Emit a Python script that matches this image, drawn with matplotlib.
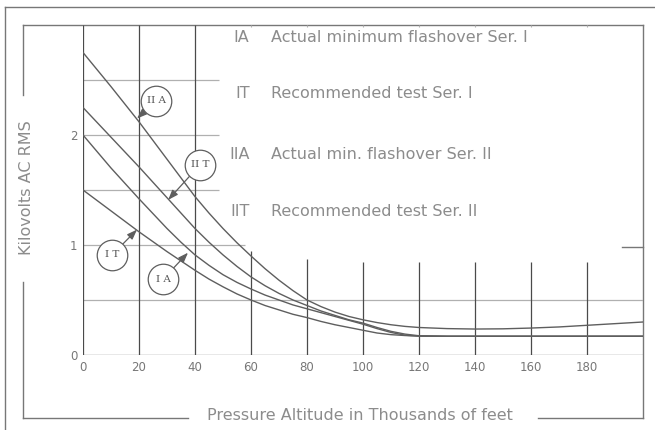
import matplotlib
matplotlib.use("Agg")
import matplotlib.pyplot as plt
from matplotlib.lines import Line2D

# altitude in thousands of feet
altitude = [0, 5, 10, 15, 20, 25, 30, 35, 40, 45, 50, 55, 60, 65, 70, 75, 80, 85, 90,
            95, 100, 105, 110, 115, 120, 130, 140, 150, 160, 170, 180, 190, 200]
# kilovolts AC RMS
ser1_actual = [2.00, 1.85, 1.70, 1.56, 1.42, 1.285, 1.15, 1.025, 0.91, 0.815, 0.73, 0.66,
               0.60, 0.545, 0.50, 0.455, 0.42, 0.385, 0.35, 0.315, 0.28, 0.24, 0.205,
               0.18, 0.172, 0.17, 0.17, 0.17, 0.17, 0.17, 0.17, 0.17, 0.17]
ser1_test = [1.50, 1.405, 1.31, 1.215, 1.12, 1.03, 0.94, 0.855, 0.77, 0.69, 0.62, 0.555,
             0.50, 0.45, 0.41, 0.37, 0.34, 0.305, 0.275, 0.25, 0.225, 0.20, 0.185,
             0.177, 0.172, 0.17, 0.17, 0.17, 0.17, 0.17, 0.17, 0.17, 0.17]
ser2_actual = [2.75, 2.595, 2.44, 2.28, 2.12, 1.95, 1.78, 1.61, 1.44, 1.29, 1.15, 1.02,
               0.90, 0.785, 0.68, 0.585, 0.50, 0.44, 0.39, 0.35, 0.32, 0.295, 0.275,
               0.26, 0.25, 0.24, 0.236, 0.238, 0.245, 0.255, 0.27, 0.285, 0.30]
ser2_test = [2.25, 2.115, 1.98, 1.845, 1.71, 1.57, 1.43, 1.29, 1.15, 1.025, 0.91, 0.805,
             0.71, 0.63, 0.56, 0.50, 0.45, 0.40, 0.36, 0.32, 0.29, 0.25, 0.215,
             0.19, 0.175, 0.17, 0.17, 0.17, 0.17, 0.17, 0.17, 0.17, 0.17]

x_ticks = [0, 20, 40, 60, 80, 100, 120, 140, 160, 180]
y_ticks = [0, 1, 2]

legend_codes = ["IA", "IT", "IIA", "IIT"]
legend_texts = ["Actual minimum flashover Ser. I", "Recommended test Ser. I",
                "Actual min. flashover Ser. II", "Recommended test Ser. II"]
legend_y = [2.89, 2.38, 1.82, 1.30]

# circled tags: label, circle centre, arrow tip on the curve
tags = [("II A", (26.1, 2.31), (19.3, 2.15)),
        ("II T", (41.8, 1.73), (30.4, 1.41)),
        ("I T", (10.4, 0.91), (19.3, 1.14)),
        ("I A", (28.6, 0.69), (37.5, 0.93))]

W, H = 655, 430
fig = plt.figure(figsize=(W / 100, H / 100), dpi=100)
fig.patch.set_facecolor("white")
ax = fig.add_axes([83 / W, 1 - 355 / H, 560 / W, 330 / H])
ax.set_facecolor("none")
ax.set_xlim(0, 200)
ax.set_ylim(0, 3)
for s in ax.spines.values():
    s.set_visible(False)

grid_dark = "#4a4a4a"
grid_light = "#b0b0b0"
curve_col = "#5e5e5e"
text_col = "#8c8c8c"

# horizontal rules
ax.axhline(0, color=grid_dark, lw=0.9)
ax.axhline(0.5, color=grid_light, lw=0.9)
ax.hlines([1.0], 0, 58, color=grid_light, lw=0.9)
ax.hlines([1.5, 2.0, 2.5], 0, 48.5, color=grid_light, lw=0.9)
# vertical rules
ax.vlines([0, 20, 40], 0, 3, color=grid_dark, lw=0.9)
ax.vlines([60], 0, 0.95, color=grid_dark, lw=0.9)
ax.vlines([80], 0, 0.87, color=grid_dark, lw=0.9)
ax.vlines([100, 120, 140, 160, 180], 0, 0.85, color=grid_dark, lw=0.9)
ax.vlines([60, 80, 100, 120, 140, 160, 180], 2.985, 3, color=grid_light, lw=0.8)

for series in (ser1_actual, ser1_test, ser2_actual, ser2_test):
    ax.plot(altitude, series, color=curve_col, lw=1.0, solid_joinstyle="round")

for label, centre, tip in tags:
    ax.annotate("", xy=tip, xytext=centre,
                arrowprops=dict(arrowstyle="-|>,head_length=0.6,head_width=0.22",
                                color=curve_col, lw=0.9, shrinkA=11, shrinkB=0))
    ax.scatter([centre[0]], [centre[1]], s=22 ** 2, facecolor="white",
               edgecolor=curve_col, linewidth=0.9, zorder=3)
    ax.text(centre[0], centre[1], label, ha="center", va="center", fontsize=7.5,
            family="DejaVu Serif", color="#555555", zorder=4)

for code, txt, yy in zip(legend_codes, legend_texts, legend_y):
    ax.text(59.5, yy, code, ha="right", va="center", fontsize=11.5, color=text_col)
    ax.text(67, yy, txt, ha="left", va="center", fontsize=11.5, color=text_col)

ax.set_xticks(x_ticks)
ax.set_yticks(y_ticks)
ax.tick_params(length=0, labelsize=8.5, labelcolor="#777777")
ax.tick_params(axis="x", pad=4)
ax.tick_params(axis="y", pad=4)

# frame drawn in pixel space
ov = fig.add_axes([0, 0, 1, 1], zorder=-1)
ov.set_xlim(0, W)
ov.set_ylim(H, 0)
ov.axis("off")
frame = "#777777"
segs = [((5, 5), (7, H)), ((5, W), (7, 7)),
        ((23, 643), (25, 25)), ((643, 643), (25, 418)),
        ((23, 23), (25, 95)), ((23, 23), (282, 418)),
        ((23, 188), (418, 418)), ((538, 643), (418, 418)),
        ((622, 643), (247, 247))]
for xs, ys in segs:
    ov.add_line(Line2D(xs, ys, color=frame, lw=1.0))
ov.text(27, 188, "Kilovolts AC RMS", rotation=90, ha="center", va="center",
        fontsize=11.5, color=text_col)
ov.text(360, 415, "Pressure Altitude in Thousands of feet", ha="center", va="center",
        fontsize=11.5, color=text_col)

fig.savefig("out.png", dpi=100)
